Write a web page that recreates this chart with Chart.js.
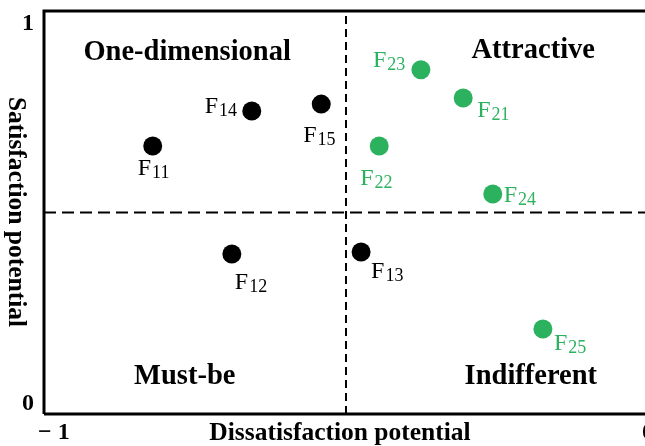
<!DOCTYPE html>
<html>
<head>
<meta charset="utf-8">
<script src="https://cdn.jsdelivr.net/npm/chart.js@4.4.1/dist/chart.umd.min.js"></script>
<style>
  html, body { margin: 0; padding: 0; background: #fff; overflow: hidden; width: 645px; height: 446px; }
  #wrap { width: 660px; height: 446px; }
</style>
</head>
<body>
<div id="wrap"><canvas id="c" width="660" height="446"></canvas></div>
<script>
// ---- data ----
const blackLabels = ['11', '14', '15', '12', '13'];
const blackX = [-0.820, -0.656, -0.541, -0.689, -0.475];
const blackY = [0.665, 0.752, 0.769, 0.397, 0.402];

const greenLabels = ['23', '21', '22', '24', '25'];
const greenX = [-0.376, -0.306, -0.445, -0.257, -0.174];
const greenY = [0.854, 0.784, 0.665, 0.546, 0.211];

const quadrantNames = ['One-dimensional', 'Attractive', 'Must-be', 'Indifferent'];
const quadrantX = [-0.763, -0.190, -0.767, -0.194];
const quadrantY = [0.897, 0.901, 0.093, 0.093];

const xTickLabels = ['\u2212 1', '0'];
const yTickLabels = ['0', '1'];
const xTitle = 'Dissatisfaction potential';
const yTitle = 'Satisfaction potential';
const xSplit = -0.5;
const ySplit = 0.5;

// ---- styles (label offsets from point centre, px) ----
const GREEN = 'rgb(44,178,95)';
const labelOffsets = {
  '11': [-15, 29], '14': [-47, 2], '15': [-18, 38], '12': [3, 35], '13': [10, 26],
  '23': [-48, -3], '21': [14, 19], '22': [-19, 39], '24': [11, 8], '25': [11, 21]
};
const SERIF = '"Liberation Serif", "Times New Roman", serif';

const toPts = (xs, ys) => xs.map((x, i) => ({ x: x, y: ys[i] }));

const textPlugin = {
  id: 'texts',
  afterDraw(chart) {
    const ctx = chart.ctx;
    const xs = chart.scales.x, ys = chart.scales.y;
    const ca = chart.chartArea;
    ctx.save();
    // frame
    ctx.strokeStyle = '#000';
    ctx.lineWidth = 3;
    ctx.beginPath();
    ctx.moveTo(ca.left, ca.bottom);
    ctx.lineTo(ca.left, ca.top);
    ctx.lineTo(ca.right, ca.top);
    ctx.lineTo(ca.right, ca.bottom);
    ctx.lineTo(ca.left, ca.bottom);
    ctx.stroke();

    // point labels
    const drawLbl = (dsIndex, labels, color) => {
      const meta = chart.getDatasetMeta(dsIndex);
      meta.data.forEach((el, i) => {
        const off = labelOffsets[labels[i]];
        const x0 = el.x + off[0], y0 = el.y + off[1];
        ctx.fillStyle = color;
        ctx.textAlign = 'left';
        ctx.textBaseline = 'alphabetic';
        ctx.font = '24px ' + SERIF;
        ctx.fillText('F', x0, y0);
        const w = ctx.measureText('F').width;
        ctx.font = '18px ' + SERIF;
        ctx.fillText(labels[i], x0 + w + 1, y0 + 3);
      });
    };
    drawLbl(2, blackLabels, '#000');
    drawLbl(3, greenLabels, GREEN);

    // quadrant names
    ctx.fillStyle = '#000';
    ctx.font = 'bold 28.5px ' + SERIF;
    ctx.textAlign = 'center';
    ctx.textBaseline = 'middle';
    quadrantNames.forEach((n, i) => {
      ctx.fillText(n, xs.getPixelForValue(quadrantX[i]), ys.getPixelForValue(quadrantY[i]));
    });

    // tick labels
    ctx.font = 'bold 24px ' + SERIF;
    ctx.textAlign = 'right';
    ctx.textBaseline = 'alphabetic';
    ctx.fillText(yTickLabels[1], ca.left - 10, ys.getPixelForValue(1) + 19);
    ctx.fillText(yTickLabels[0], ca.left - 10, ys.getPixelForValue(0) - 4);
    ctx.textAlign = 'left';
    ctx.fillText(xTickLabels[0], xs.getPixelForValue(-1) - 6, ca.bottom + 25);
    ctx.textAlign = 'center';
    ctx.fillText(xTickLabels[1], xs.getPixelForValue(0), ca.bottom + 25);

    // axis titles
    ctx.font = 'bold 25.5px ' + SERIF;
    ctx.textAlign = 'center';
    ctx.textBaseline = 'alphabetic';
    ctx.fillText(xTitle, 340, ca.bottom + 26);
    ctx.save();
    ctx.translate(16, 212);
    ctx.rotate(Math.PI / 2);
    ctx.textBaseline = 'middle';
    ctx.fillText(yTitle, 0, 0);
    ctx.restore();
    ctx.restore();
  }
};

new Chart(document.getElementById('c'), {
  type: 'scatter',
  data: {
    datasets: [
      { type: 'line', data: [{ x: xSplit, y: 0 }, { x: xSplit, y: 1 }], borderColor: '#000', borderWidth: 2, borderDash: [8, 5], pointRadius: 0, fill: false },
      { type: 'line', data: [{ x: -1, y: ySplit }, { x: 0, y: ySplit }], borderColor: '#000', borderWidth: 2, borderDash: [12, 6], pointRadius: 0, fill: false },
      { data: toPts(blackX, blackY), backgroundColor: '#000', borderColor: '#000', pointRadius: 9.5, pointHoverRadius: 9.5, borderWidth: 0 },
      { data: toPts(greenX, greenY), backgroundColor: GREEN, borderColor: GREEN, pointRadius: 9.5, pointHoverRadius: 9.5, borderWidth: 0 }
    ]
  },
  options: {
    responsive: false,
    animation: false,
    events: [],
    layout: { padding: { left: 44, top: 11, right: 12, bottom: 32 } },
    plugins: { legend: { display: false }, tooltip: { enabled: false } },
    scales: {
      x: { type: 'linear', min: -1, max: 0, display: false },
      y: { type: 'linear', min: 0, max: 1, display: false }
    }
  },
  plugins: [textPlugin]
});
</script>
</body>
</html>
